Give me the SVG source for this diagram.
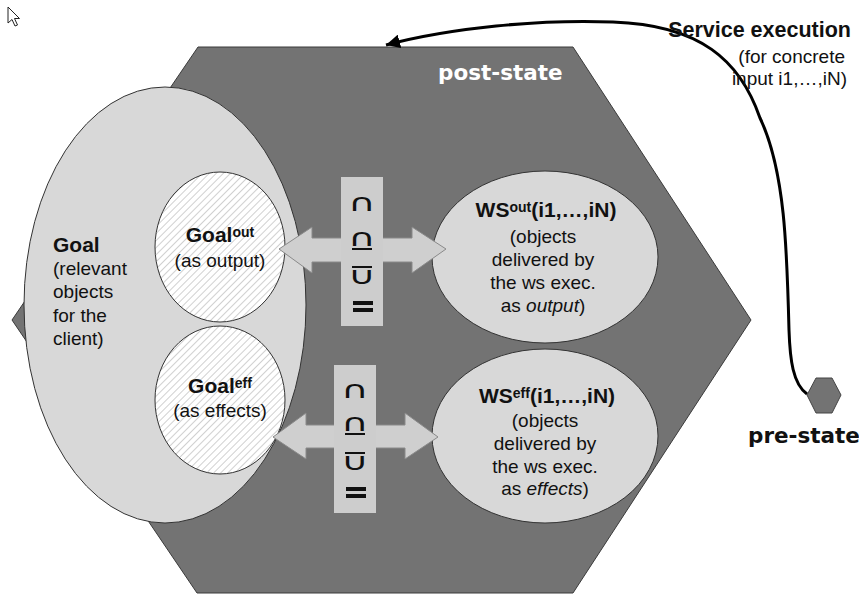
<svg xmlns="http://www.w3.org/2000/svg" width="859" height="597" viewBox="0 0 859 597">
<style>
text{font-family:"Liberation Sans",Arial,sans-serif;fill:#111}
.h{font-size:21px;font-weight:bold}
.b{font-size:19px}
.sup{font-size:14px;font-weight:bold}
.st{font-family:"DejaVu Sans",Verdana,sans-serif;font-size:21.5px;font-weight:bold}
.light{fill:#d8d8d8;stroke:#333;stroke-width:1}
.hatch{fill:url(#hatch);stroke:#333;stroke-width:1}
.arr{fill:#cfcfcf;stroke:#8a8a8a;stroke-width:1}
.col{fill:#cdcdcd}
.sym{font-family:"DejaVu Sans","Liberation Sans",sans-serif;font-size:24px;text-anchor:middle}
.bar{fill:#111}
.c{text-anchor:middle}
</style>
<defs>
<pattern id="hatch" patternUnits="userSpaceOnUse" width="5" height="5" patternTransform="rotate(45)">
<rect width="5" height="5" fill="#fff"/>
<line x1="0" y1="0" x2="0" y2="5" stroke="#c4c4c4" stroke-width="1.6"/>
</pattern>
<marker id="ah" markerUnits="userSpaceOnUse" markerWidth="16" markerHeight="14" refX="14" refY="7" orient="auto">
<path d="M0,0 L14,7 L0,14 z" fill="#000"/>
</marker>
</defs>

<g id="cursor">
<path d="M8,7 L8,23 L12,19.5 L15,26 L17.5,25 L14.5,18.5 L19.5,18.5 Z" fill="#fff" stroke="#222" stroke-width="1"/>
</g>

<g id="post-state">
<polygon points="198,47 573,47 751,320 573,593 197,593 12,320" fill="#737373" stroke="#3a3a3a" stroke-width="1"/>
<text class="st" x="438" y="80" style="fill:#fff">post-state</text>
</g>

<g id="goal">
<ellipse class="light" cx="165" cy="305" rx="141" ry="218"/>
<text x="53" y="252" class="h">Goal</text>
<text x="53" y="275" class="b">(relevant</text>
<text x="53" y="298" class="b">objects</text>
<text x="53" y="322" class="b">for the</text>
<text x="53" y="345" class="b">client)</text>
</g>

<g id="goal-out">
<ellipse class="hatch" cx="220" cy="247" rx="65" ry="75"/>
<text x="220" y="242" class="c"><tspan class="h">Goal</tspan><tspan class="sup" dy="-5">out</tspan></text>
<text x="220" y="267" class="b c">(as output)</text>
</g>

<g id="goal-eff">
<ellipse class="hatch" cx="220" cy="400" rx="65" ry="74"/>
<text x="220" y="393" class="c"><tspan class="h">Goal</tspan><tspan class="sup" dy="-5">eff</tspan></text>
<text x="220" y="417" class="b c">(as effects)</text>
</g>

<g id="ws-out">
<ellipse class="light" cx="545" cy="257" rx="113" ry="86"/>
<text x="546" y="217" class="c"><tspan class="h">WS</tspan><tspan class="sup" dy="-5">out</tspan><tspan class="h" dy="5">(i1,…,iN)</tspan></text>
<text x="543" y="243" class="b c">(objects</text>
<text x="543" y="266" class="b c">delivered by</text>
<text x="543" y="289" class="b c">the ws exec.</text>
<text x="543" y="312" class="b c">as <tspan font-style="italic">output</tspan>)</text>
</g>

<g id="ws-eff">
<ellipse class="light" cx="545" cy="436" rx="113" ry="87"/>
<text x="547" y="403" class="c"><tspan class="h">WS</tspan><tspan class="sup" dy="-5">eff</tspan><tspan class="h" dy="5">(i1,…,iN)</tspan></text>
<text x="545" y="427" class="b c">(objects</text>
<text x="545" y="450" class="b c">delivered by</text>
<text x="545" y="473" class="b c">the ws exec.</text>
<text x="545" y="495" class="b c">as <tspan font-style="italic">effects</tspan>)</text>
</g>

<g id="match-out">
<polygon class="arr" points="279,249 312,227 312,238 412,238 412,227 446,249 412,273 412,262 312,262 312,273"/>
<rect class="col" x="341" y="177" width="42" height="149"/>
<text class="sym" transform="translate(362,211) scale(1.6,1)">∩</text>
<text class="sym" transform="translate(362,246) scale(1.6,1)">∩</text>
<rect class="bar" x="352" y="248" width="20" height="2"/>
<rect class="bar" x="352" y="266" width="20" height="2"/>
<text class="sym" transform="translate(362,284) scale(1.6,1)">∪</text>
<rect class="bar" x="353" y="301" width="20" height="4"/>
<rect class="bar" x="353" y="308" width="20" height="4"/>
</g>

<g id="match-eff">
<polygon class="arr" points="273,437 306,413 306,425 405,425 405,413 438,437 405,459 405,448 306,448 306,459"/>
<rect class="col" x="334" y="365" width="42" height="148"/>
<text class="sym" transform="translate(355,398) scale(1.6,1)">∩</text>
<text class="sym" transform="translate(355,431) scale(1.6,1)">∩</text>
<rect class="bar" x="345" y="433" width="20" height="2"/>
<rect class="bar" x="345" y="452" width="20" height="2"/>
<text class="sym" transform="translate(355,470) scale(1.6,1)">∪</text>
<rect class="bar" x="346" y="487" width="20" height="4"/>
<rect class="bar" x="346" y="494" width="20" height="4"/>
</g>

<g id="pre-state">
<polygon points="807,395 816,378 832,378 841,395 832,413 816,413" fill="#737373" stroke="#444" stroke-width="1"/>
<text class="st" x="748" y="443">pre-state</text>
</g>

<g id="connectors">
<path d="M807,394 C793,384 790,360 789,330 C787,250 785,170 760,118 C740,60 700,25 613,22 C540,19 450,28 386,45" fill="none" stroke="#000" stroke-width="3" marker-end="url(#ah)"/>
<text x="851" y="37" class="h" style="text-anchor:end;font-size:21.5px">Service execution</text>
<text x="845" y="63" class="b" style="text-anchor:end">(for concrete</text>
<text x="847" y="85" class="b" style="text-anchor:end">input i1,…,iN)</text>
</g>
</svg>
